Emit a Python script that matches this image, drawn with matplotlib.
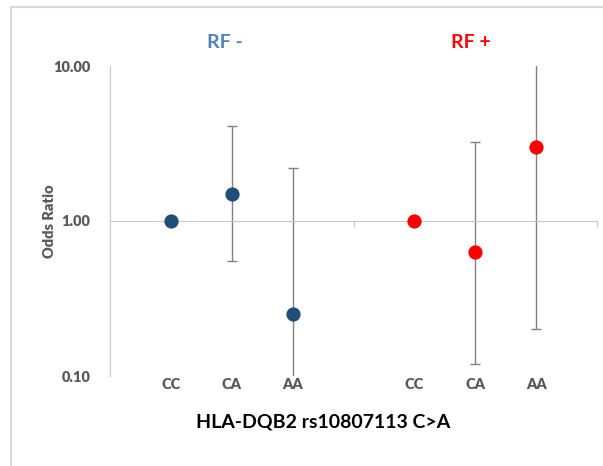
import numpy as np
import matplotlib
matplotlib.use('Agg')
import matplotlib.pyplot as plt
from matplotlib.patches import Rectangle

plt.rcParams['font.family'] = ['Lato', 'DejaVu Sans']

genotypes = ['CC', 'CA', 'AA']

# RF- group
rf_neg_x = [1, 2, 3]
rf_neg_or = [1.00, 1.49, 0.25]
rf_neg_lo = [1.00, 0.55, 0.03]
rf_neg_hi = [1.00, 4.10, 2.20]

# RF+ group
rf_pos_x = [5, 6, 7]
rf_pos_or = [1.00, 0.63, 3.00]
rf_pos_lo = [1.00, 0.12, 0.20]
rf_pos_hi = [1.00, 3.23, 10.5]

fig = plt.figure(figsize=(6.03, 4.66), dpi=100)
ax = fig.add_axes([110/603, 90/466, 487/603, 310/466])

# light frame round the chart (right and bottom edges fall outside the picture)
fig.patches.append(Rectangle((11/603, -0.05), 1.1, 1.05 - 7/466, transform=fig.transFigure,
                             fill=False, edgecolor='#d9d9d9', linewidth=1.5))

for xs, ors, lo, hi, col in [(rf_neg_x, rf_neg_or, rf_neg_lo, rf_neg_hi, '#1f4e79'),
                             (rf_pos_x, rf_pos_or, rf_pos_lo, rf_pos_hi, '#ff0000')]:
    ors = np.array(ors)
    yerr = [ors - np.array(lo), np.array(hi) - ors]
    ax.errorbar(xs, ors, yerr=yerr, fmt='none', ecolor='#808080', elinewidth=1,
                capsize=3.5, capthick=1, zorder=2)
    ax.scatter(xs, ors, s=105, color=col, zorder=3, linewidths=0)

ax.set_yscale('log')
ax.set_ylim(0.1, 10)
ax.set_xlim(0, 8)
ax.set_yticks([0.1, 1, 10])
ax.set_yticklabels(['0.10', '1.00', '10.00'])
ax.minorticks_off()
ax.tick_params(axis='y', length=0, pad=14, labelsize=10.5, labelcolor='#595959')
for lab in ax.get_yticklabels():
    lab.set_fontweight('heavy')

ax.spines['top'].set_visible(False)
ax.spines['right'].set_visible(False)
ax.spines['left'].set_color('#c8c8c8')
ax.spines['bottom'].set_position(('data', 1))
ax.spines['bottom'].set_color('#c8c8c8')
ax.set_xticks([4, 8])
ax.set_xticklabels([])
ax.tick_params(axis='x', length=4, color='#c8c8c8', direction='out')

for xs in (rf_neg_x, rf_pos_x):
    for x, g in zip(xs, genotypes):
        ax.text(x, -0.008, g, transform=ax.get_xaxis_transform(), ha='center', va='top',
                fontsize=10.5, fontweight='heavy', color='#595959')

ax.set_ylabel('Odds Ratio', fontsize=10.5, fontweight='heavy', color='#595959', labelpad=-2)

fig.text(225/603, 1 - 43/466, 'RF -', ha='center', va='center', fontsize=14,
         fontweight='bold', color='#4f81bd')
fig.text(471/603, 1 - 43/466, 'RF +', ha='center', va='center', fontsize=14,
         fontweight='bold', color='#ff0000')
fig.text(323/603, 1 - 422/466, 'HLA-DQB2 rs10807113 C>A', ha='center', va='center',
         fontsize=14, fontweight='bold', color='black')

fig.savefig('out.png', dpi=100)
